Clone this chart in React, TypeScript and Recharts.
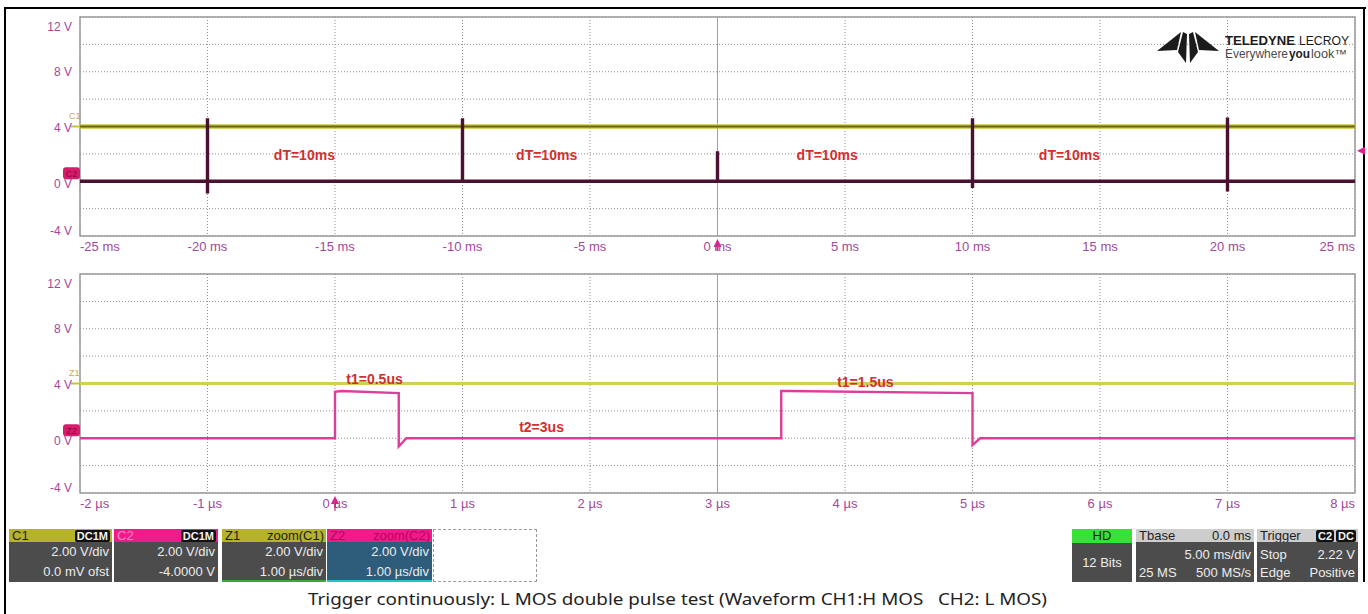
import React from 'react';
import {
  LineChart,
  Line,
  XAxis,
  YAxis,
  CartesianGrid,
  ReferenceArea,
  ReferenceLine,
  ReferenceDot,
} from 'recharts';

// ---- data ----
const voltGrid = [-4, -2, 0, 2, 4, 6, 8, 10, 12];
const msTicks = [-25, -20, -15, -10, -5, 0, 5, 10, 15, 20, 25];
const usTicks = [-2, -1, 0, 1, 2, 3, 4, 5, 6, 7, 8];

// C1 (H MOS gate), 5 ms/div
const c1Time = [-25, 25];
const c1Volt = [4, 4];

// C2 (L MOS gate), 5 ms/div, a double pulse every 10 ms
const c2Time = [-25, -20, -20, -20, -20, -10, -10, -10, 0, 0, 0, 10, 10, 10, 10, 20, 20, 20, 20, 25];
const c2Volt = [0, 0, 4.6, -0.9, 0, 0, 4.6, 0, 0, 2.2, 0, 0, 4.6, -0.5, 0, 0, 4.65, -0.75, 0, 0];

// Z1 = zoom(C1), 1 us/div
const z1Time = [-2, 8];
const z1Volt = [4, 4];

// Z2 = zoom(C2), 1 us/div
const z2Time = [-2, 0, 0, 0.05, 0.5, 0.5, 0.56, 3.5, 3.5, 3.55, 5, 5, 5.06, 8];
const z2Volt = [0, 0, 3.4, 3.45, 3.3, -0.6, 0, 0, 3.45, 3.45, 3.3, -0.5, 0, 0];

const topNotes = ['dT=10ms', 'dT=10ms', 'dT=10ms', 'dT=10ms'];
const topNoteTime = [-16.2, -6.7, 4.3, 13.8];
const topNoteVolt = [1.9, 1.9, 1.95, 1.95];

const zoomNotes = ['t1=0.5us', 't2=3us', 't1=1.5us'];
const zoomNoteTime = [0.31, 1.62, 4.16];
const zoomNoteVolt = [4.3, 0.8, 4.1];

const triggerLevel = 2.22;

const toPoints = (t: number[], v: number[]) => t.map((x, i) => ({ t: x, v: v[i] }));

const FONT = '"Liberation Sans", Arial, sans-serif';
const AXIS_COLOR = '#a3489b';
const NOTE_COLOR = '#d12f30';
const PINK = '#e31d8c';

const VoltTick = (props: any) => {
  const { x, y, payload } = props;
  const v = payload.value;
  if (v % 4 !== 0) return <g />;
  const nudge = v === 12 ? 10 : v === -4 ? -5 : v === 0 ? 3 : v === 4 ? 1 : 0;
  return (
    <text x={x} y={y + nudge} dy={4} textAnchor="end" fill={AXIS_COLOR} fontSize={12} fontFamily={FONT}>
      {v} V
    </text>
  );
};

function timeTick(ticks: number[], unit: string) {
  return (props: any) => {
    const { x, y, payload } = props;
    const i = ticks.indexOf(payload.value);
    const anchor = i === 0 ? 'start' : i === ticks.length - 1 ? 'end' : 'middle';
    return (
      <text x={x} y={y} dy={15} textAnchor={anchor} fill={AXIS_COLOR} fontSize={13} fontFamily={FONT}>
        {payload.value} {unit}
      </text>
    );
  };
}

const trigMark = (p: any) => (
  <g>
    <polygon points={`${p.cx - 4},${p.cy + 11} ${p.cx + 4},${p.cy + 11} ${p.cx},${p.cy + 3}`} fill={PINK} />
    <line x1={p.cx} x2={p.cx} y1={p.cy + 11} y2={p.cy + 15} stroke={PINK} strokeWidth={2} />
  </g>
);

const levelMark = (p: any) => (
  <polygon points={`${p.cx + 2},${p.cy} ${p.cx + 10},${p.cy - 4} ${p.cx + 10},${p.cy + 4}`} fill={PINK} />
);

const yellowTag = (name: string) => (p: any) => (
  <g>
    <line x1={p.cx - 9} x2={p.cx} y1={p.cy} y2={p.cy} stroke="#c8c435" strokeWidth={2} />
    <text x={p.cx - 11} y={p.cy - 8} fontSize={9} fill="#c9a75a" fontFamily={FONT}>
      {name}
    </text>
  </g>
);

const pinkTag = (name: string) => (p: any) => (
  <g>
    <rect x={p.cx - 17} y={p.cy - 14} width={17} height={12} rx={3} fill="#d81b6a" />
    <text x={p.cx - 8.5} y={p.cy - 4.5} textAnchor="middle" fontSize={9} fill="#8c0542" fontFamily={FONT}>
      {name}
    </text>
  </g>
);

const noteShape = (label: string) => (p: any) => (
  <text x={p.cx} y={p.cy} dy={5} textAnchor="middle" fill={NOTE_COLOR} fontSize={14} fontWeight="bold" fontFamily={FONT}>
    {label}
  </text>
);

interface PanelProps {
  top: number;
  xTicks: number[];
  unit: string;
  center: number;
  traces: { key: string; data: { t: number; v: number }[]; color: string; width: number }[];
  notes: string[];
  noteTime: number[];
  noteVolt: number[];
  tags: { name: string; v: number; kind: 'yellow' | 'pink' }[];
  level?: number;
}

function Panel({ top, xTicks, unit, center, traces, notes, noteTime, noteVolt, tags, level }: PanelProps) {
  const x0 = xTicks[0];
  const x1 = xTicks[xTicks.length - 1];
  return (
    <div style={{ position: 'absolute', left: 0, top }}>
      <LineChart width={1368} height={260} margin={{ top: 17, right: 13, bottom: 0, left: 8 }}>
        <CartesianGrid stroke="#8f8f8f" strokeDasharray="1 2" />
        <XAxis
          dataKey="t"
          type="number"
          domain={[x0, x1]}
          ticks={xTicks}
          interval={0}
          height={24}
          axisLine={false}
          tickLine={false}
          tickSize={0}
          tickMargin={0}
          tick={timeTick(xTicks, unit)}
          allowDataOverflow
        />
        <YAxis
          type="number"
          domain={[-4, 12]}
          ticks={voltGrid}
          interval={0}
          width={72}
          axisLine={false}
          tickLine={false}
          tickSize={0}
          tickMargin={8}
          tick={VoltTick}
          allowDataOverflow
        />
        <ReferenceArea x1={x0} x2={x1} y1={-4} y2={12} fill="none" fillOpacity={0} stroke="#9a9a9a" strokeWidth={1.5} />
        <ReferenceLine x={center} stroke="#a0a0a0" strokeWidth={1} />
        {traces.map((tr) => (
          <Line
            key={tr.key}
            data={tr.data}
            dataKey="v"
            type="linear"
            stroke={tr.color}
            strokeWidth={tr.width}
            dot={false}
            activeDot={false}
            isAnimationActive={false}
          />
        ))}
        {notes.map((n, i) => (
          <ReferenceDot key={'n' + i} x={noteTime[i]} y={noteVolt[i]} r={0} shape={noteShape(n)} />
        ))}
        {tags.map((tg) => (
          <ReferenceDot
            key={tg.name}
            x={x0}
            y={tg.v}
            r={0}
            ifOverflow="visible"
            shape={tg.kind === 'yellow' ? yellowTag(tg.name) : pinkTag(tg.name)}
          />
        ))}
        <ReferenceDot x={0} y={-4} r={0} ifOverflow="visible" shape={trigMark} />
        {level !== undefined && <ReferenceDot x={x1} y={level} r={0} ifOverflow="visible" shape={levelMark} />}
      </LineChart>
    </div>
  );
}

const abs = (left: number, top: number, width: number, height: number, extra: React.CSSProperties = {}): React.CSSProperties => ({
  position: 'absolute',
  left,
  top,
  width,
  height,
  boxSizing: 'border-box',
  ...extra,
});

const Badge = ({ text }: { text: string }) => (
  <span
    style={{
      background: '#111',
      color: '#f2f2f2',
      fontSize: 11,
      lineHeight: '12px',
      padding: '0 2px',
      borderRadius: 2,
      marginLeft: 2,
      fontWeight: 'bold',
    }}
  >
    {text}
  </span>
);

function ChannelBox(props: {
  left: number;
  width: number;
  head: string;
  headColor: string;
  headText: string;
  right: React.ReactNode;
  row1: string;
  row2: string;
  body?: string;
  bottom?: string;
}) {
  const { left, width, head, headColor, headText, right, row1, row2, body = '#4c4c4c', bottom } = props;
  return (
    <>
      <div style={abs(left, 529, width, 13, { background: headColor, display: 'flex', justifyContent: 'space-between', alignItems: 'center', padding: '0 2px 0 3px', color: headText, fontSize: 13 })}>
        <span>{head}</span>
        <span>{right}</span>
      </div>
      <div style={abs(left, 542, width, 40, { background: body, borderBottom: bottom ? `2px solid ${bottom}` : undefined, color: '#ececec', fontSize: 13, textAlign: 'right', padding: '1px 3px 0 0', lineHeight: '15px' })}>
        <div style={{ marginTop: 1 }}>{row1}</div>
        <div style={{ marginTop: 5 }}>{row2}</div>
      </div>
    </>
  );
}

function Logo() {
  return (
    <svg style={{ position: 'absolute', left: 1150, top: 28 }} width={212} height={40}>
      <g transform="translate(7,4)" fill="#1b1b1b">
        <polygon points="0,19 24,0 20,18" />
        <polygon points="26,0 30,2 29,31 21,20" />
        <polygon points="36,0 32,2 33,31 41,20" />
        <polygon points="62,19 38,0 42,18" />
      </g>
      <text x={75} y={17} fontFamily={FONT} fontSize={13} fontWeight="bold" fill="#1b1b1b" textLength={70} lengthAdjust="spacingAndGlyphs">
        TELEDYNE
      </text>
      <text x={149} y={17} fontFamily={FONT} fontSize={13} fill="#1b1b1b" textLength={50} lengthAdjust="spacingAndGlyphs">
        LECROY
      </text>
      <text x={75} y={30} fontFamily={FONT} fontSize={12} fill="#4a4a4a" textLength={63} lengthAdjust="spacingAndGlyphs">
        Everywhere
      </text>
      <text x={139} y={30} fontFamily={FONT} fontSize={12} fontWeight="bold" fill="#222" textLength={21} lengthAdjust="spacingAndGlyphs">
        you
      </text>
      <text x={161} y={30} fontFamily={FONT} fontSize={12} fill="#4a4a4a" textLength={36} lengthAdjust="spacingAndGlyphs">
        look™
      </text>
    </svg>
  );
}

export default function App() {
  const topTraces = [
    { key: 'c1glow', data: toPoints(c1Time, c1Volt), color: '#cbc73a', width: 4.5 },
    { key: 'c1', data: toPoints(c1Time, c1Volt), color: '#6c6816', width: 2 },
    { key: 'c2', data: toPoints(c2Time, c2Volt), color: '#4b1131', width: 3.4 },
  ];
  const zoomTraces = [
    { key: 'z1', data: toPoints(z1Time, z1Volt), color: '#d0cf58', width: 3 },
    { key: 'z2', data: toPoints(z2Time, z2Volt), color: '#da3f9a', width: 2.4 },
  ];

  return (
    <div style={{ position: 'absolute', left: 0, top: 0, width: 1368, height: 614, background: '#fff', overflow: 'hidden', fontFamily: FONT }}>
      {/* screenshot frame */}
      <div style={abs(4, 7, 1362, 2, { background: '#000' })} />
      <div style={abs(4, 7, 2, 607, { background: '#000' })} />
      <div style={abs(1363, 7, 2, 575, { background: '#000' })} />

      <Panel
        top={0}
        xTicks={msTicks}
        unit="ms"
        center={0}
        traces={topTraces}
        notes={topNotes}
        noteTime={topNoteTime}
        noteVolt={topNoteVolt}
        tags={[
          { name: 'C1', v: 4, kind: 'yellow' },
          { name: 'C2', v: 0, kind: 'pink' },
        ]}
        level={triggerLevel}
      />
      <Panel
        top={257}
        xTicks={usTicks}
        unit="µs"
        center={3}
        traces={zoomTraces}
        notes={zoomNotes}
        noteTime={zoomNoteTime}
        noteVolt={zoomNoteVolt}
        tags={[
          { name: 'Z1', v: 4, kind: 'yellow' },
          { name: 'Z2', v: 0, kind: 'pink' },
        ]}
      />

      <Logo />

      {/* channel descriptors */}
      <ChannelBox left={9} width={103} head="C1" headColor="#b7b22c" headText="#1e1e1e" right={<Badge text="DC1M" />} row1="2.00 V/div" row2="0.0 mV ofst" />
      <ChannelBox left={114} width={104} head="C2" headColor="#ec1c8b" headText="#ff86c2" right={<Badge text="DC1M" />} row1="2.00 V/div" row2="-4.0000 V" />
      <ChannelBox left={222} width={104} head="Z1" headColor="#b7b22c" headText="#1e1e1e" right="zoom(C1)" row1="2.00 V/div" row2="1.00 µs/div" bottom="#2fae2f" />
      <ChannelBox left={327} width={105} head="Z2" headColor="#ec1c8b" headText="#b3095e" right="zoom(C2)" row1="2.00 V/div" row2="1.00 µs/div" body="#2e5d7c" bottom="#22c6c6" />
      <div style={abs(433, 529, 104, 53, { border: '1px dashed #9a9a9a' })} />

      {/* acquisition descriptors */}
      <div style={abs(1072, 529, 60, 14, { background: '#3ae03a', color: '#1e1e1e', fontSize: 13, textAlign: 'center', lineHeight: '14px' })}>HD</div>
      <div style={abs(1072, 543, 60, 39, { background: '#4c4c4c', color: '#ececec', fontSize: 13, textAlign: 'center', lineHeight: '39px' })}>12 Bits</div>

      <div style={abs(1136, 529, 118, 13, { background: '#cdcdcd', color: '#1e1e1e', fontSize: 13, display: 'flex', justifyContent: 'space-between', alignItems: 'center', padding: '0 3px' })}>
        <span>Tbase</span>
        <span>0.0 ms</span>
      </div>
      <div style={abs(1136, 542, 118, 40, { background: '#4c4c4c', color: '#ececec', fontSize: 13, lineHeight: '15px', padding: '5px 3px 0 3px' })}>
        <div style={{ textAlign: 'right' }}>5.00 ms/div</div>
        <div style={{ display: 'flex', justifyContent: 'space-between', marginTop: 3 }}>
          <span>25 MS</span>
          <span>500 MS/s</span>
        </div>
      </div>

      <div style={abs(1257, 529, 101, 13, { background: '#cdcdcd', color: '#1e1e1e', fontSize: 13, display: 'flex', justifyContent: 'space-between', alignItems: 'center', padding: '0 2px 0 3px' })}>
        <span>Trigger</span>
        <span>
          <Badge text="C2" />
          <Badge text="DC" />
        </span>
      </div>
      <div style={abs(1257, 542, 101, 40, { background: '#4c4c4c', color: '#ececec', fontSize: 13, lineHeight: '15px', padding: '5px 3px 0 3px' })}>
        <div style={{ display: 'flex', justifyContent: 'space-between' }}>
          <span>Stop</span>
          <span>2.22 V</span>
        </div>
        <div style={{ display: 'flex', justifyContent: 'space-between', marginTop: 3 }}>
          <span>Edge</span>
          <span>Positive</span>
        </div>
      </div>

      <svg style={{ position: 'absolute', left: 0, top: 584 }} width={1368} height={30}>
        <text x={308} y={21} fontFamily='"Noto Sans", "Open Sans", sans-serif' fontSize={17} fill="#222" textLength={739} lengthAdjust="spacingAndGlyphs">
          Trigger continuously: L MOS double pulse test (Waveform CH1:H MOS{'\u00a0\u00a0\u00a0'}CH2: L MOS)
        </text>
      </svg>
    </div>
  );
}
